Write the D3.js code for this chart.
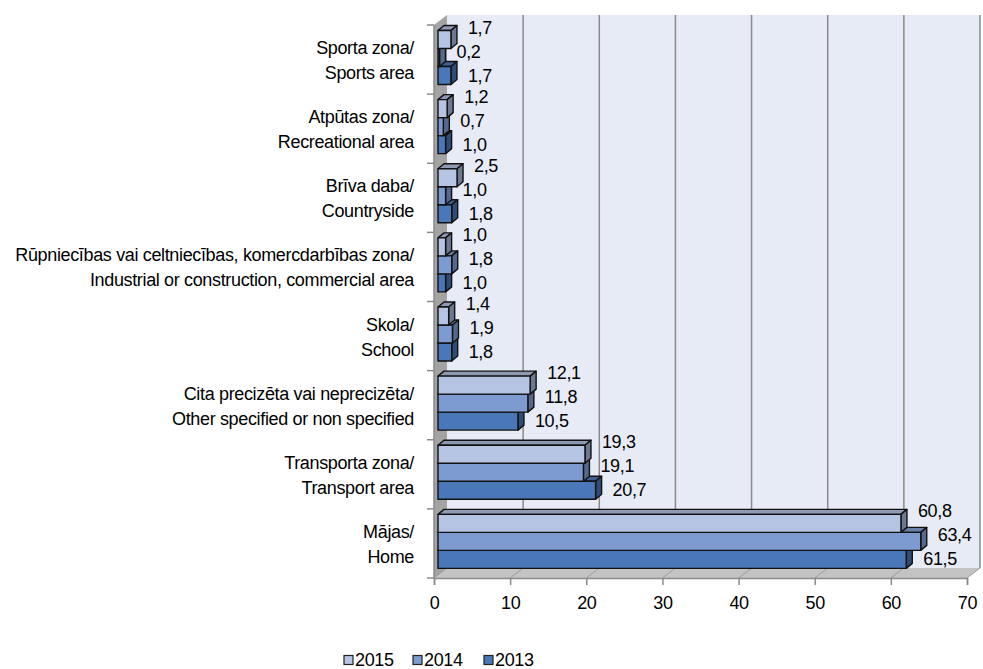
<!DOCTYPE html>
<html><head><meta charset="utf-8">
<script src="https://cdn.jsdelivr.net/npm/d3@7"></script>
<style>
html,body{margin:0;padding:0;background:#fff;}
text{font-family:"Liberation Sans",Arial,sans-serif;fill:#000;letter-spacing:-0.35px;}
</style></head>
<body><svg id="c" width="983" height="669"></svg>
<script>
const categories = [
  ["Sporta zona/","Sports area"],
  ["Atpūtas zona/","Recreational area"],
  ["Brīva daba/","Countryside"],
  ["Rūpniecības vai celtniecības, komercdarbības zona/","Industrial or construction, commercial area"],
  ["Skola/","School"],
  ["Cita precizēta vai neprecizēta/","Other specified or non specified"],
  ["Transporta zona/","Transport area"],
  ["Mājas/","Home"]
];
const seriesNames = ["2015","2014","2013"];
const values2015 = [1.7,1.2,2.5,1.0,1.4,12.1,19.3,60.8];
const values2014 = [0.2,0.7,1.0,1.8,1.9,11.8,19.1,63.4];
const values2013 = [1.7,1.0,1.8,1.0,1.8,10.5,20.7,61.5];
const xTicks = [0,10,20,30,40,50,60,70];

const series = [values2015, values2014, values2013];
const front = ["#b6c4e3","#7e9bd1","#4a77b7"];
const topC = ["#8e9ab3","#6a7fa8","#3f5f92"];
const sideC = ["#6c7990","#55698e","#2f4c78"];
const FS = 18;

const svg = d3.select("#c");
const fmt = v => d3.format(".1f")(v).replace(".", ",");

const x = d3.scaleLinear().domain([0,70]).range([434,967]);
const y = d3.scaleBand().domain(d3.range(categories.length)).range([25,578]).padding(0);
const DX = 13, DY = -10;   // wall depth
const bdx = 6, bdy = -5;   // bar depth
const bOff = 4;            // bar front offset

const yTop = y.range()[0], yBot = y.range()[1];
const x0 = x(0), x1 = x(70);

// back wall
svg.append("rect").attr("x", x0+DX).attr("y", yTop+DY).attr("width", x1-x0).attr("height", yBot-yTop).attr("fill","#e7ebf5");
// side wall
svg.append("polygon").attr("points", [[x0,yTop],[x0+DX,yTop+DY],[x0+DX,yBot+DY],[x0,yBot]].join(" ")).attr("fill","#a3a3a3");
// floor
svg.append("polygon").attr("points", [[x0,yBot],[x0+DX,yBot+DY],[x1+DX,yBot+DY],[x1,yBot]].join(" ")).attr("fill","#c3c3c3");
// gridlines
xTicks.forEach(t => {
  if (t>0) svg.append("line").attr("x1", x(t)+DX).attr("x2", x(t)+DX).attr("y1", yTop+DY).attr("y2", yBot+DY).attr("stroke","#8a8a8a").attr("stroke-width",1.5);
  svg.append("line").attr("x1", x(t)).attr("x2", x(t)+DX).attr("y1", yBot).attr("y2", yBot+DY).attr("stroke","#9a9a9a").attr("stroke-width",1);
});

// axes
const xAxis = d3.axisBottom(x).tickValues(xTicks).tickSize(7).tickPadding(11).tickFormat(d3.format("d"));
const gx = svg.append("g").attr("transform", `translate(0,${yBot})`).call(xAxis);
gx.select(".domain").attr("stroke","#8a8a8a").attr("stroke-width",1.5);
gx.selectAll(".tick line").attr("stroke","#8a8a8a").attr("stroke-width",1.5);
gx.selectAll("text").attr("font-size",FS).attr("font-family","Liberation Sans, Arial, sans-serif").attr("fill","#000");

svg.append("line").attr("x1",x0).attr("x2",x0).attr("y1",yTop).attr("y2",yBot).attr("stroke","#8a8a8a").attr("stroke-width",1.5);
d3.range(categories.length+1).forEach(i => {
  const yy = yTop + i*y.step();
  svg.append("line").attr("x1",x0-7).attr("x2",x0).attr("y1",yy).attr("y2",yy).attr("stroke","#8a8a8a").attr("stroke-width",1.5);
});

// category labels
categories.forEach((c,i) => {
  const cy = y(i) + y.bandwidth()/2 + 1;
  const t = svg.append("text").attr("text-anchor","end").attr("font-size",FS).attr("x",414).attr("y",cy - 12.5).attr("dominant-baseline","central");
  t.append("tspan").attr("x",414).attr("y",cy-12.5).text(c[0]);
  t.append("tspan").attr("x",414).attr("y",cy+12.5).text(c[1]);
});

// bars
const barH = 18, barTopOff = 5.5;
const labelDy = [-12,-6,0];
categories.forEach((c,i) => {
  for (let s = series.length-1; s >= 0; s--) {
    const v = series[s][i];
    const xs = x(0)+bOff, xe = x(v)+bOff;
    const yt = y(i) + barTopOff + s*barH, yb = yt + barH;
    const g = svg.append("g").attr("stroke","#111").attr("stroke-width",1.4).attr("stroke-linejoin","round");
    g.append("polygon").attr("points",[[xs,yt],[xs+bdx,yt+bdy],[xe+bdx,yt+bdy],[xe,yt]].join(" ")).attr("fill",topC[s]);
    g.append("polygon").attr("points",[[xe,yt],[xe+bdx,yt+bdy],[xe+bdx,yb+bdy],[xe,yb]].join(" ")).attr("fill",sideC[s]);
    g.append("rect").attr("x",xs).attr("y",yt).attr("width",Math.max(xe-xs,0.5)).attr("height",barH).attr("fill",front[s]);
  }
  series.forEach((vals,s) => {
    const v = vals[i];
    const yt = y(i) + barTopOff + s*barH;
    svg.append("text").attr("font-size",FS).attr("x", x(v)+bOff+17).attr("y", yt+barH/2+labelDy[s]).attr("dominant-baseline","central").text(fmt(v));
  });
});

// legend
const lg = svg.append("g").attr("transform","translate(344,660)");
const lx = [0,69,140];
seriesNames.forEach((n,s) => {
  lg.append("rect").attr("x",lx[s]).attr("y",-4.5).attr("width",9).attr("height",9).attr("fill",front[s]).attr("stroke","#222").attr("stroke-width",1.2);
  lg.append("text").attr("x",lx[s]+11).attr("y",0).attr("dominant-baseline","central").attr("font-size",FS).text(n);
});
</script></body></html>
